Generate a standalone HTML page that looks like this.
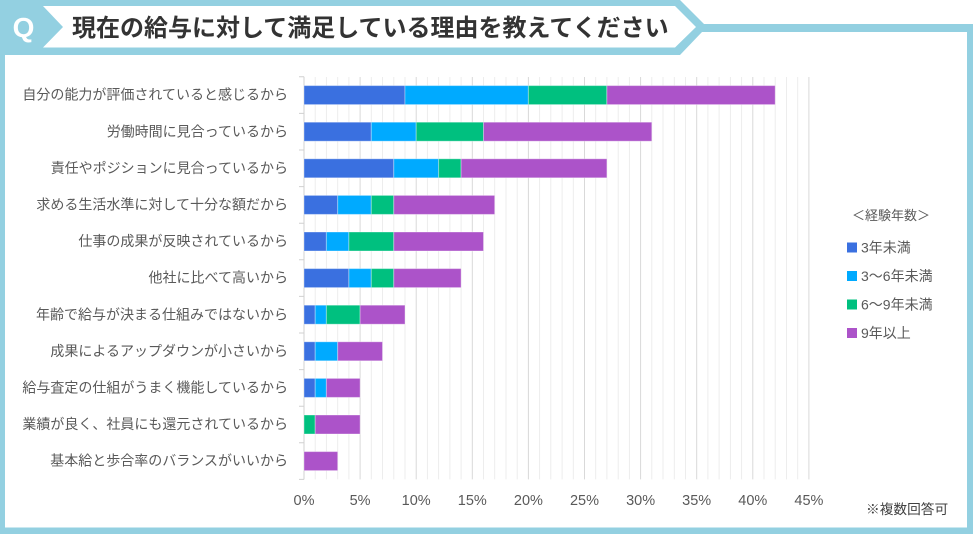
<!DOCTYPE html>
<html><head><meta charset="utf-8"><style>
html,body{margin:0;padding:0;background:#fff;}
svg{display:block;}
text{font-family:"Liberation Sans","Noto Sans CJK JP",sans-serif;}
</style></head><body>
<svg width="973" height="534" viewBox="0 0 973 534" xmlns="http://www.w3.org/2000/svg">
<rect width="973" height="534" fill="#fff"/>
<path fill="#93d0e1" d="M0,0 H680 L704,24 H973 V534 H0 Z"/>
<path fill="#fff" d="M5,55 H680 L702,32 H967 V527.5 H5 Z"/>
<path fill="#fff" d="M43,6 H675 L696,27 L675,47.5 H43 L63,27 Z"/>
<text x="23.5" y="37" fill="#fff" font-size="28" font-weight="bold" text-anchor="middle">Q</text>
<text x="72" y="36" fill="#333" font-size="24" font-weight="bold">現在の給与に対して満足している理由を教えてください</text>

<path stroke="#ededed" stroke-width="1" fill="none" d="M315.2,77V479.4 M326.4,77V479.4 M337.7,77V479.4 M348.9,77V479.4 M371.3,77V479.4 M382.5,77V479.4 M393.8,77V479.4 M405.0,77V479.4 M427.4,77V479.4 M438.6,77V479.4 M449.9,77V479.4 M461.1,77V479.4 M483.5,77V479.4 M494.7,77V479.4 M506.0,77V479.4 M517.2,77V479.4 M539.6,77V479.4 M550.8,77V479.4 M562.1,77V479.4 M573.3,77V479.4 M595.7,77V479.4 M606.9,77V479.4 M618.2,77V479.4 M629.4,77V479.4 M651.8,77V479.4 M663.0,77V479.4 M674.3,77V479.4 M685.5,77V479.4 M707.9,77V479.4 M719.1,77V479.4 M730.4,77V479.4 M741.6,77V479.4 M764.0,77V479.4 M775.2,77V479.4 M786.5,77V479.4 M797.7,77V479.4"/>
<path stroke="#d9d9d9" stroke-width="1" fill="none" d="M360.1,77V479.4 M416.2,77V479.4 M472.3,77V479.4 M528.4,77V479.4 M584.5,77V479.4 M640.6,77V479.4 M696.7,77V479.4 M752.8,77V479.4 M808.9,77V479.4"/>
<path stroke="#d0d0d0" stroke-width="1" fill="none" d="M304,76.8V479.4 M299,76.8H304 M299,113.4H304 M299,150H304 M299,186.6H304 M299,223.2H304 M299,259.8H304 M299,296.4H304 M299,333H304 M299,369.6H304 M299,406.2H304 M299,442.8H304 M299,479.4H304"/>

<g stroke="rgba(255,255,255,0.35)" stroke-width="1">
<rect x="304" y="85.6" width="101.0" height="19" fill="#3a70e0"/>
<rect x="405.0" y="85.6" width="123.4" height="19" fill="#00aaff"/>
<rect x="528.4" y="85.6" width="78.5" height="19" fill="#00c07f"/>
<rect x="606.9" y="85.6" width="168.3" height="19" fill="#ac53c9"/>
<rect x="304" y="122.2" width="67.3" height="19" fill="#3a70e0"/>
<rect x="371.3" y="122.2" width="44.9" height="19" fill="#00aaff"/>
<rect x="416.2" y="122.2" width="67.3" height="19" fill="#00c07f"/>
<rect x="483.5" y="122.2" width="168.3" height="19" fill="#ac53c9"/>
<rect x="304" y="158.8" width="89.8" height="19" fill="#3a70e0"/>
<rect x="393.8" y="158.8" width="44.8" height="19" fill="#00aaff"/>
<rect x="438.6" y="158.8" width="22.5" height="19" fill="#00c07f"/>
<rect x="461.1" y="158.8" width="145.8" height="19" fill="#ac53c9"/>
<rect x="304" y="195.4" width="33.7" height="19" fill="#3a70e0"/>
<rect x="337.7" y="195.4" width="33.6" height="19" fill="#00aaff"/>
<rect x="371.3" y="195.4" width="22.5" height="19" fill="#00c07f"/>
<rect x="393.8" y="195.4" width="100.9" height="19" fill="#ac53c9"/>
<rect x="304" y="232.0" width="22.4" height="19" fill="#3a70e0"/>
<rect x="326.4" y="232.0" width="22.5" height="19" fill="#00aaff"/>
<rect x="348.9" y="232.0" width="44.9" height="19" fill="#00c07f"/>
<rect x="393.8" y="232.0" width="89.7" height="19" fill="#ac53c9"/>
<rect x="304" y="268.6" width="44.9" height="19" fill="#3a70e0"/>
<rect x="348.9" y="268.6" width="22.4" height="19" fill="#00aaff"/>
<rect x="371.3" y="268.6" width="22.5" height="19" fill="#00c07f"/>
<rect x="393.8" y="268.6" width="67.3" height="19" fill="#ac53c9"/>
<rect x="304" y="305.2" width="11.2" height="19" fill="#3a70e0"/>
<rect x="315.2" y="305.2" width="11.2" height="19" fill="#00aaff"/>
<rect x="326.4" y="305.2" width="33.7" height="19" fill="#00c07f"/>
<rect x="360.1" y="305.2" width="44.9" height="19" fill="#ac53c9"/>
<rect x="304" y="341.8" width="11.2" height="19" fill="#3a70e0"/>
<rect x="315.2" y="341.8" width="22.5" height="19" fill="#00aaff"/>
<rect x="337.7" y="341.8" width="44.8" height="19" fill="#ac53c9"/>
<rect x="304" y="378.4" width="11.2" height="19" fill="#3a70e0"/>
<rect x="315.2" y="378.4" width="11.2" height="19" fill="#00aaff"/>
<rect x="326.4" y="378.4" width="33.7" height="19" fill="#ac53c9"/>
<rect x="304" y="415.0" width="11.2" height="19" fill="#00c07f"/>
<rect x="315.2" y="415.0" width="44.9" height="19" fill="#ac53c9"/>
<rect x="304" y="451.6" width="33.7" height="19" fill="#ac53c9"/>
</g>

<g font-size="14" fill="#595959" text-anchor="end">
<text x="288" y="99.5">自分の能力が評価されていると感じるから</text>
<text x="288" y="136.3">労働時間に見合っているから</text>
<text x="288" y="172.9">責任やポジションに見合っているから</text>
<text x="288" y="209.5">求める生活水準に対して十分な額だから</text>
<text x="288" y="246.1">仕事の成果が反映されているから</text>
<text x="288" y="282.7">他社に比べて高いから</text>
<text x="288" y="319.3">年齢で給与が決まる仕組みではないから</text>
<text x="288" y="355.9">成果によるアップダウンが小さいから</text>
<text x="288" y="392.5">給与査定の仕組がうまく機能しているから</text>
<text x="288" y="429.1">業績が良く、社員にも還元されているから</text>
<text x="288" y="465.7">基本給と歩合率のバランスがいいから</text>
</g>

<g font-size="14.5" fill="#595959" text-anchor="middle">
<text x="304" y="505">0%</text>
<text x="360.1" y="505">5%</text>
<text x="416.2" y="505">10%</text>
<text x="472.3" y="505">15%</text>
<text x="528.4" y="505">20%</text>
<text x="584.5" y="505">25%</text>
<text x="640.6" y="505">30%</text>
<text x="696.7" y="505">35%</text>
<text x="752.8" y="505">40%</text>
<text x="808.9" y="505">45%</text>
</g>

<text x="852" y="220" font-size="13" fill="#595959">＜経験年数＞</text>
<rect x="847" y="242.5" width="10" height="10" fill="#3a70e0"/>
<rect x="847" y="271" width="10" height="10" fill="#00aaff"/>
<rect x="847" y="299.5" width="10" height="10" fill="#00c07f"/>
<rect x="847" y="328" width="10" height="10" fill="#ac53c9"/>
<g font-size="14" fill="#595959">
<text x="861" y="252.5">3年未満</text>
<text x="861" y="281">3～6年未満</text>
<text x="861" y="309.5">6～9年未満</text>
<text x="861" y="338">9年以上</text>
</g>

<text x="866" y="514" font-size="13.7" fill="#404040">※複数回答可</text>
</svg>
</body></html>
